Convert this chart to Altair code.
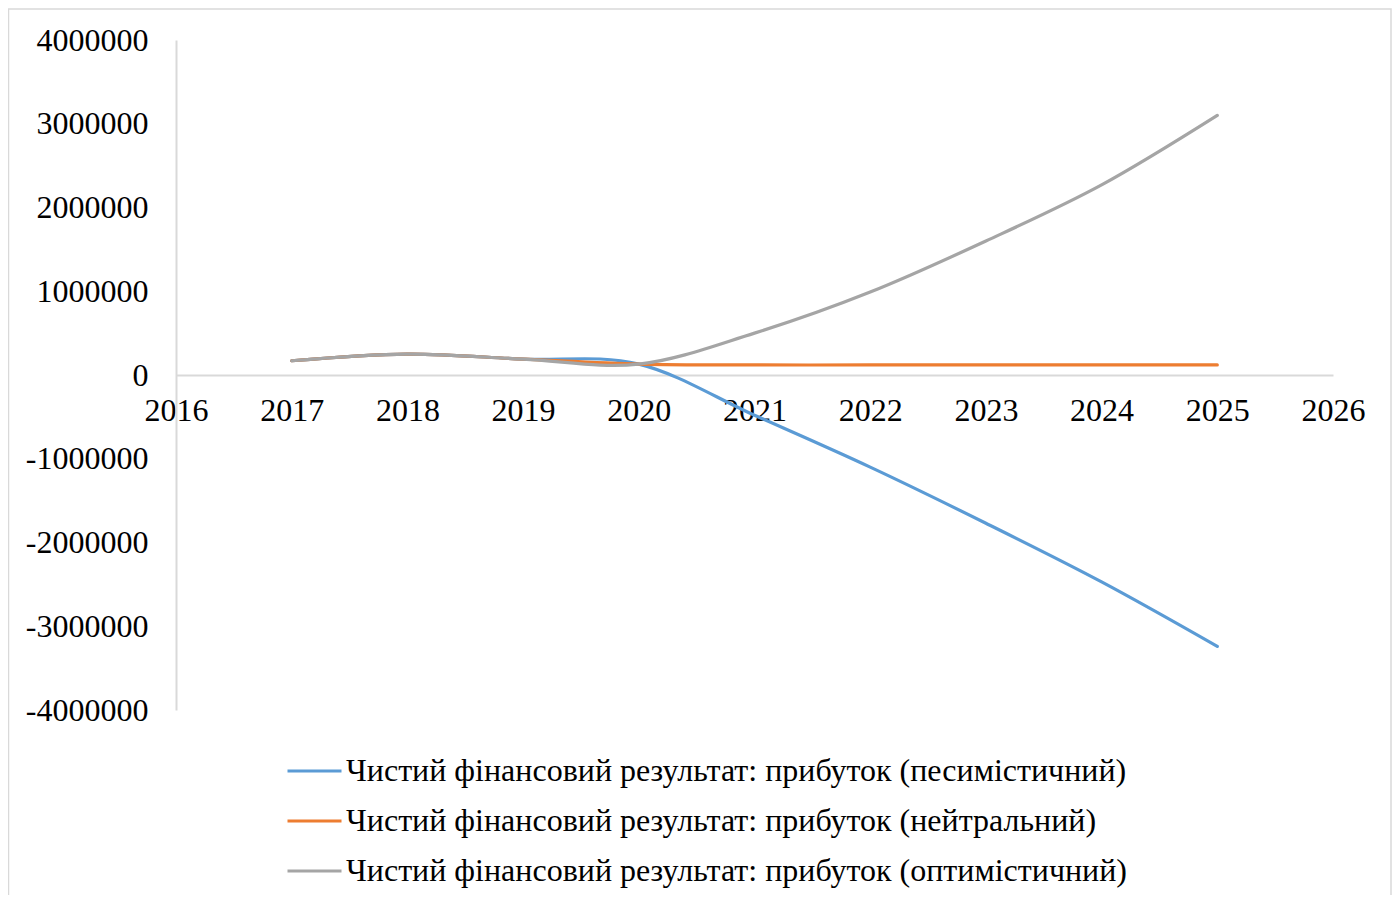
import altair as alt
import pandas as pd

years = [2017, 2018, 2019, 2020, 2021, 2022, 2023, 2024, 2025]
series_names = [
    "Чистий фінансовий результат: прибуток (песимістичний)",
    "Чистий фінансовий результат: прибуток (нейтральний)",
    "Чистий фінансовий результат: прибуток (оптимістичний)",
]
pessimistic = [170000, 250000, 190000, 130000, -480000, -1100000, -1770000, -2470000, -3240000]
neutral = [170000, 250000, 190000, 130000, 120000, 120000, 120000, 120000, 120000]
optimistic = [170000, 250000, 190000, 130000, 500000, 990000, 1600000, 2270000, 3100000]
colors = ["#5b9bd5", "#ed7d31", "#a5a5a5"]

rows = []
for name, vals in zip(series_names, [pessimistic, neutral, optimistic]):
    for yr, v in zip(years, vals):
        rows.append({"year": yr, "value": v, "series": name})
df = pd.DataFrame(rows)

FONT = "Liberation Serif"
FS = 32
W, H = 1157, 670

lines = alt.Chart(df).mark_line(
    interpolate="cardinal", tension=0, strokeWidth=3.2, strokeCap="round"
).encode(
    x=alt.X("year:Q", scale=alt.Scale(domain=[2016, 2026], nice=False, zero=False),
            axis=alt.Axis(values=list(range(2016, 2027)), labelExpr="'' + datum.value",
                          orient="bottom", offset=-335, domainColor="#d9d9d9", domainWidth=2,
                          ticks=False, tickSize=0, labelPadding=20, labelFontSize=FS,
                          labelFont=FONT, labelColor="#000000", grid=False, title=None,
                          labelFlush=False, labelOverlap=False)),
    y=alt.Y("value:Q", scale=alt.Scale(domain=[-4000000, 4000000], nice=False),
            axis=alt.Axis(values=list(range(-4000000, 4000001, 1000000)),
                          labelExpr="'' + datum.value", domainColor="#d9d9d9", domainWidth=2,
                          ticks=False, tickSize=0, labelPadding=28, labelFontSize=FS,
                          labelFont=FONT, labelColor="#000000", grid=False, title=None,
                          labelFlush=False, labelOverlap=False, labelBaseline="middle")),
    color=alt.Color("series:N", sort=series_names,
                    scale=alt.Scale(domain=series_names, range=colors),
                    legend=alt.Legend(orient="none", legendX=110, legendY=706, title=None,
                                      symbolType="stroke", symbolSize=2916, symbolStrokeWidth=3,
                                      labelFont=FONT, labelFontSize=FS, labelColor="#000000",
                                      labelOffset=3, rowPadding=0, clipHeight=50,
                                      labelLimit=1000, direction="vertical")),
)

frame = alt.Chart(pd.DataFrame({"a": [0]})).mark_rect(
    fill=None, stroke="#d9d9d9", strokeWidth=1.5
).encode(x=alt.value(-167.5), x2=alt.value(W + 58), y=alt.value(-31), y2=alt.value(H + 300))

chart = alt.layer(frame, lines).properties(
    width=W, height=H,
    autosize=alt.AutoSizeParams(type="none"),
    padding={"left": 168, "top": 32, "right": 59, "bottom": 185},
).configure_view(stroke=None)

chart.save("out.html", embed_options={"renderer": "svg", "actions": False})
